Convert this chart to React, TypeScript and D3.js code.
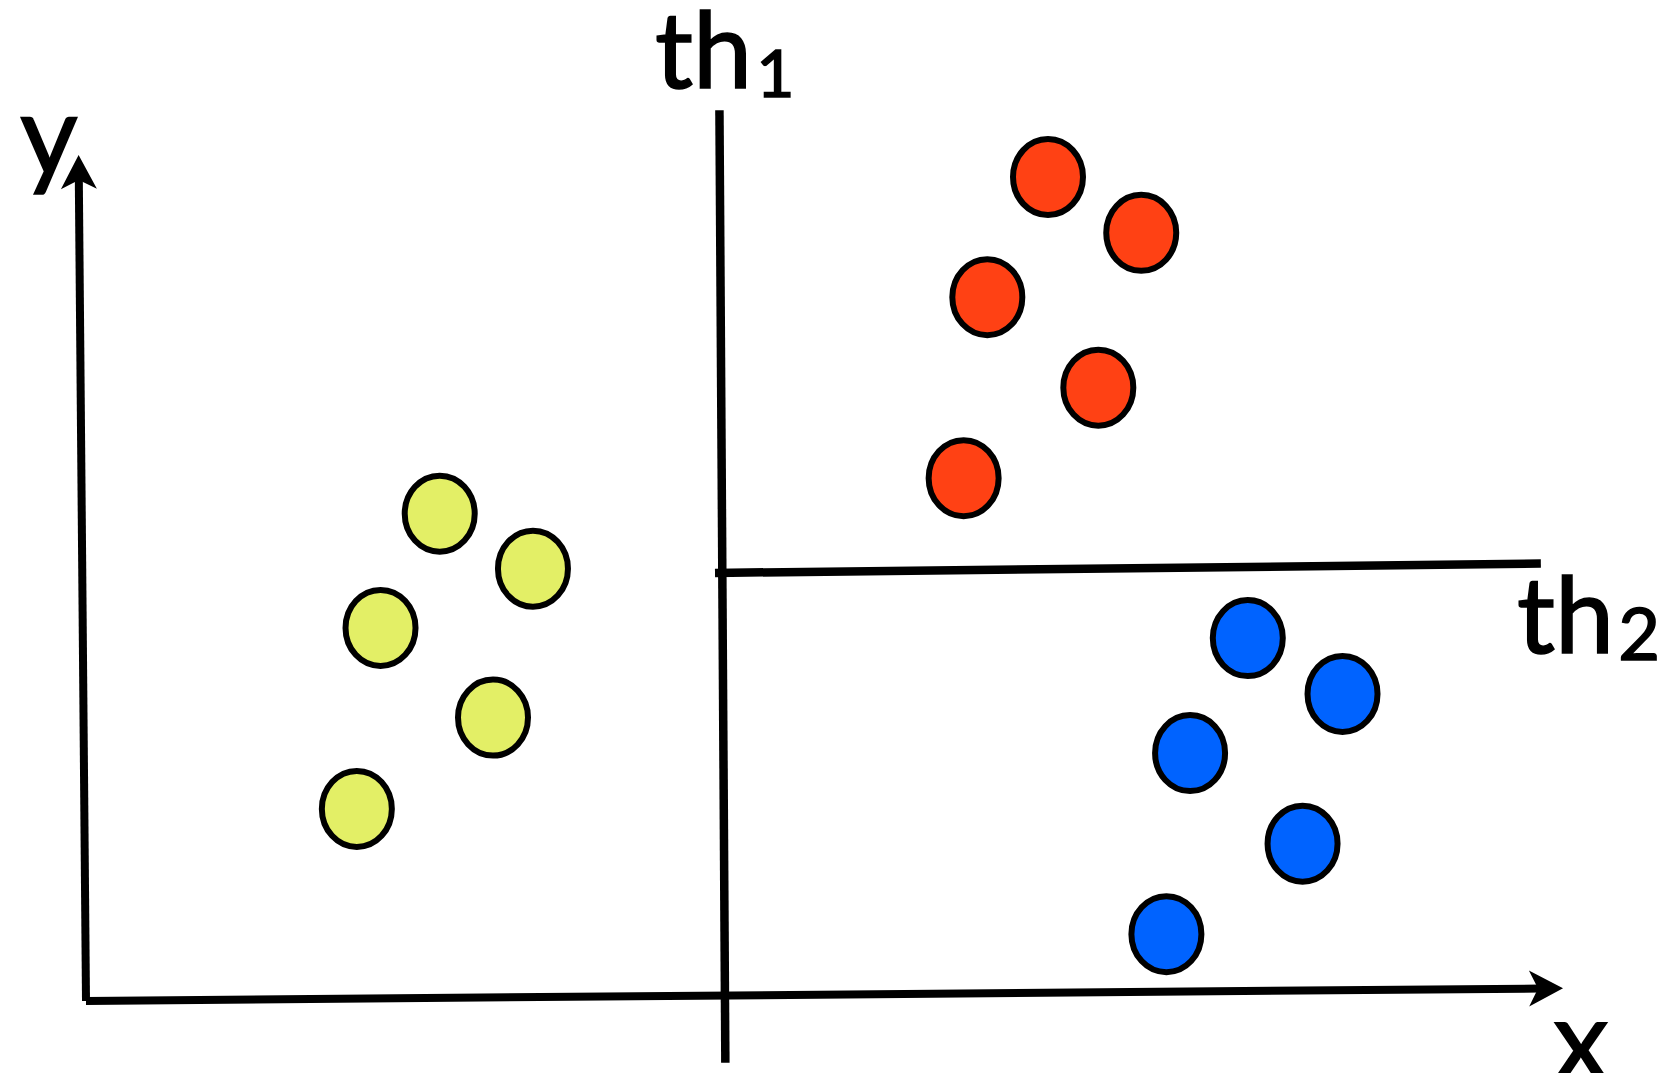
import React from "react";
import * as d3 from "d3";

// ---- data (abstract units) ----
const redX = [65.0, 71.3, 60.9, 68.4, 59.3];
const redY = [97.4, 90.8, 83.2, 72.5, 61.8];
const yellowX = [23.9, 30.2, 19.9, 27.5, 18.3];
const yellowY = [57.6, 51.1, 44.1, 33.5, 22.7];
const blueX = [78.5, 84.9, 74.6, 82.2, 73.0];
const blueY = [42.9, 36.3, 29.3, 18.6, 7.9];

// threshold lines [x1, y1, x2, y2]
const th1Line = [42.8, 105.3, 43.2, -7.3];
const th2Line = [42.5, 50.6, 98.3, 51.7];
// axes [x1, y1, x2, y2] (end is the arrow tip)
const xAxisLine = [0, 0, 99.8, 1.5];
const yAxisLine = [0, 0, -0.5, 100];

const labels = ["y", "x", "th", "1", "th", "2"];

const W = 1676;
const H = 1073;

const xScale = d3.scaleLinear().domain([0, 100]).range([86, 1566]);
const yScale = d3.scaleLinear().domain([0, 100]).range([1001, 155]);

const series = [
  { xs: yellowX, ys: yellowY, fill: "#E3EF66" },
  { xs: redX, ys: redY, fill: "#FF4114" },
  { xs: blueX, ys: blueY, fill: "#0063FF" },
];

function Arrow({ line }: { line: number[] }) {
  const x1 = xScale(line[0]);
  const y1 = yScale(line[1]);
  const x2 = xScale(line[2]);
  const y2 = yScale(line[3]);
  const ang = Math.atan2(y2 - y1, x2 - x1);
  const len = 34;
  const hw = 18;
  const notch = 9;
  const ux = Math.cos(ang), uy = Math.sin(ang);
  const px = -uy, py = ux;
  const bx = x2 - ux * len, by = y2 - uy * len;
  const nx = x2 - ux * (len - notch), ny = y2 - uy * (len - notch);
  const pts: [number, number][] = [
    [x2, y2],
    [bx + px * hw, by + py * hw],
    [nx, ny],
    [bx - px * hw, by - py * hw],
  ];
  return (
    <g>
      <line x1={x1} y1={y1} x2={nx + ux * 2} y2={ny + uy * 2} stroke="#000" strokeWidth={8} />
      <path d={d3.line()(pts) + "Z"} fill="#000" />
    </g>
  );
}

export default function App() {
  const font = "Lato, 'Open Sans', sans-serif";
  const textStyle = { fontFamily: font, fill: "#000", stroke: "#000", strokeWidth: 1.6 };
  return (
    <svg
      width={W}
      height={H}
      style={{ position: "absolute", left: 0, top: 0, display: "block", background: "#fff" }}
    >
      <rect width={W} height={H} fill="#fff" />
      <Arrow line={yAxisLine} />
      <Arrow line={xAxisLine} />
      <line
        x1={xScale(th1Line[0])}
        y1={yScale(th1Line[1])}
        x2={xScale(th1Line[2])}
        y2={yScale(th1Line[3])}
        stroke="#000"
        strokeWidth={8.5}
      />
      <line
        x1={xScale(th2Line[0])}
        y1={yScale(th2Line[1])}
        x2={xScale(th2Line[2])}
        y2={yScale(th2Line[3])}
        stroke="#000"
        strokeWidth={8.5}
      />
      {series.map((s, si) =>
        s.xs.map((xv, i) => (
          <ellipse
            key={si + "-" + i}
            cx={xScale(xv)}
            cy={yScale(s.ys[i])}
            rx={35}
            ry={38}
            fill={s.fill}
            stroke="#000"
            strokeWidth={6}
          />
        ))
      )}
      <text x={20} y={175} fontSize={112} style={textStyle}>
        {labels[0]}
      </text>
      <text x={1553} y={1080} fontSize={112} style={textStyle}>
        {labels[1]}
      </text>
      <text x={655} y={88} fontSize={106} style={textStyle}>
        {labels[2]}
        <tspan dx={4} dy={9} fontSize={66}>{labels[3]}</tspan>
      </text>
      <text x={1517} y={653} fontSize={106} style={textStyle}>
        {labels[4]}
        <tspan dx={4} dy={7} fontSize={72}>{labels[5]}</tspan>
      </text>
    </svg>
  );
}
